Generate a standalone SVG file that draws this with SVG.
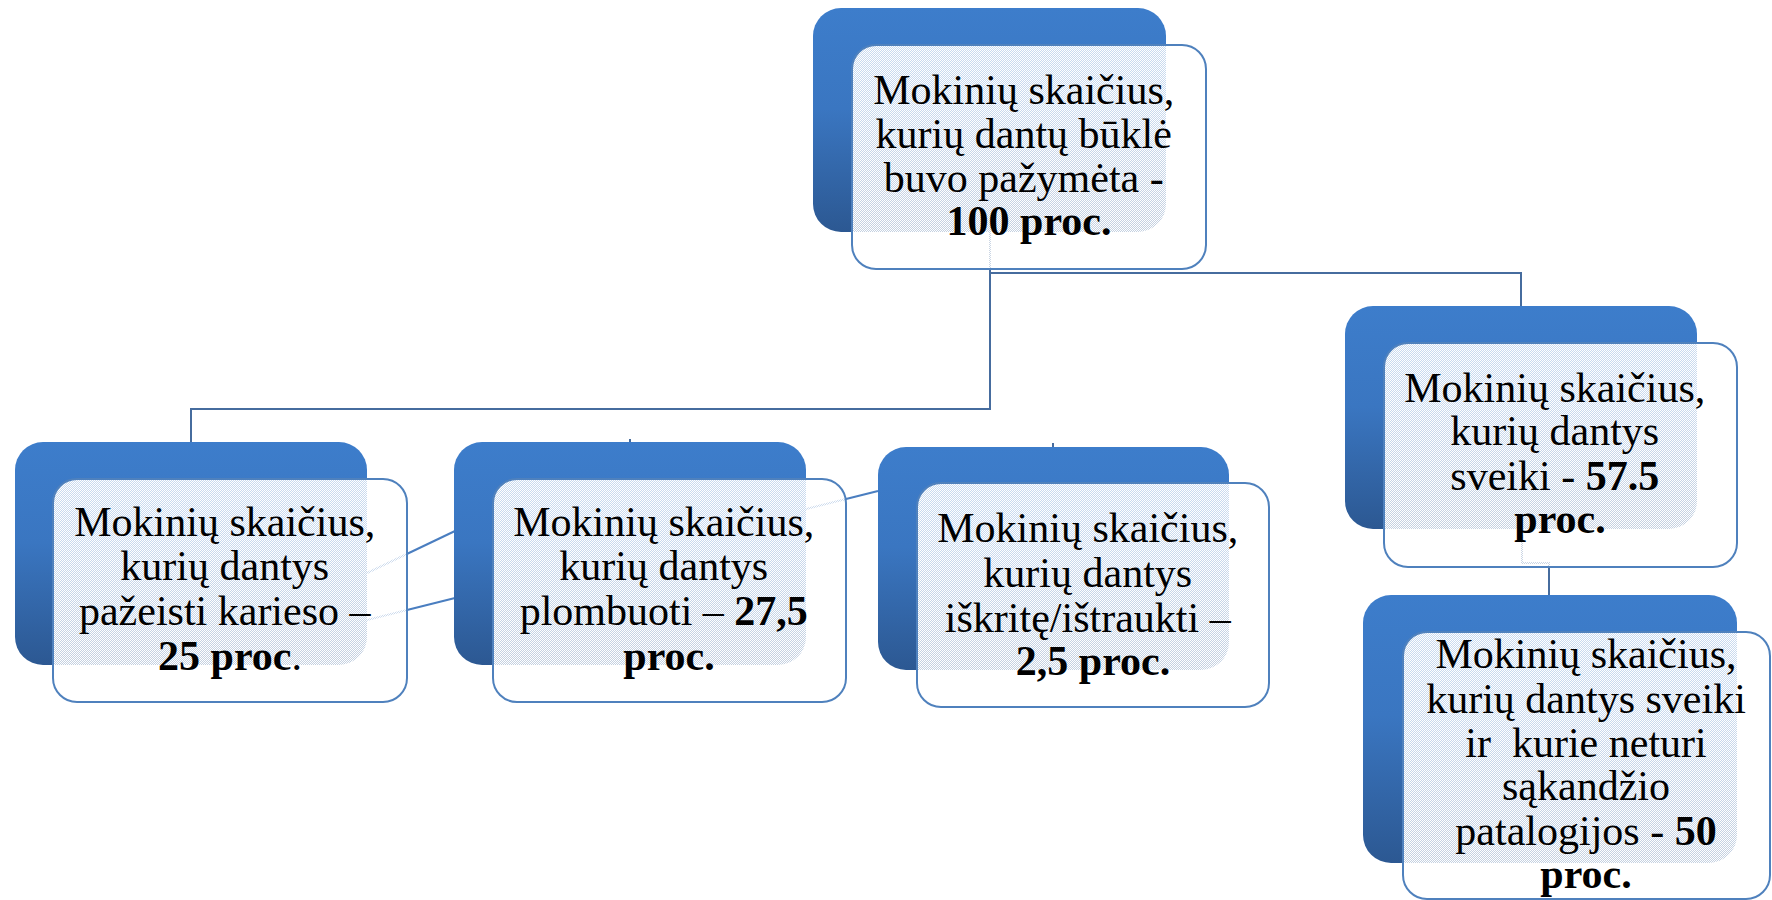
<svg xmlns="http://www.w3.org/2000/svg" width="1772" height="900" viewBox="0 0 1772 900">
  <defs>
    <linearGradient id="backGrad" x1="0" y1="0" x2="0" y2="1">
      <stop offset="0" stop-color="#3d7dcb"/>
      <stop offset="0.45" stop-color="#3a76c1"/>
      <stop offset="1" stop-color="#2c5892"/>
    </linearGradient>
    <pattern id="tex" x="0" y="0" width="2" height="2" patternUnits="userSpaceOnUse">
      <rect x="0" y="0" width="2" height="2" fill="#ffffff" fill-opacity="0.72"/>
      <rect x="0" y="0" width="1" height="1" fill="#ffffff"/>
      <rect x="1" y="1" width="1" height="1" fill="#ffffff"/>
    </pattern>
  </defs>
  <style>
    .back { fill: url(#backGrad); }
    .front { fill: url(#tex); stroke: #4f81bd; stroke-width: 2; }
    .tree { fill: none; stroke: #466c9e; stroke-width: 2; }
    .cross { fill: none; stroke: #4a7ec0; stroke-width: 2; }
    .t { font-family: "Liberation Serif", "Times New Roman", serif; font-size: 42px; fill: #000000; text-anchor: middle; }
    .b { font-weight: bold; }
  </style>
  <rect x="0" y="0" width="1772" height="900" fill="#ffffff"/>

  <g id="connectors">
    <path class="tree" d="M990,232 V409 H191 V442"/>
    <path class="tree" d="M990,273 H1521 V306"/>
    <path class="tree" d="M1522,529 V563 H1549 V595"/>
    <path class="cross" d="M367,573 L455,531"/>
    <path class="cross" d="M367,620 L455,598"/>
    <path class="cross" d="M806,509 L878,491"/>
    <path class="tree" d="M630,439 V442"/>
    <path class="tree" d="M1053,443 V447"/>
  </g>

  <g id="node-top">
    <rect class="back" x="813" y="8" width="353" height="224" rx="28"/>
    <rect class="front" x="852" y="45" width="354" height="224" rx="24"/>
    <text class="t">
      <tspan x="1029" y="104">Mokinių skaičius,</tspan>
      <tspan x="1029" y="148">kurių dantų būklė</tspan>
      <tspan x="1029" y="192">buvo pažymėta -</tspan>
      <tspan x="1029" y="235" class="b">100 proc.</tspan>
    </text>
  </g>

  <g id="node-karieso">
    <rect class="back" x="15" y="442" width="352" height="223" rx="28"/>
    <rect class="front" x="53" y="479" width="354" height="223" rx="24"/>
    <text class="t">
      <tspan x="230" y="536">Mokinių skaičius,</tspan>
      <tspan x="230" y="580">kurių dantys</tspan>
      <tspan x="230" y="625">pažeisti karieso –</tspan>
      <tspan x="230" y="670"><tspan class="b">25 proc</tspan>.</tspan>
    </text>
  </g>

  <g id="node-plombuoti">
    <rect class="back" x="454" y="442" width="352" height="223" rx="28"/>
    <rect class="front" x="493" y="479" width="353" height="223" rx="24"/>
    <text class="t">
      <tspan x="669" y="536">Mokinių skaičius,</tspan>
      <tspan x="669" y="580">kurių dantys</tspan>
      <tspan x="669" y="625">plombuoti – <tspan class="b">27,5</tspan></tspan>
      <tspan x="669" y="670" class="b">proc.</tspan>
    </text>
  </g>

  <g id="node-iskrite">
    <rect class="back" x="878" y="447" width="351" height="223" rx="28"/>
    <rect class="front" x="917" y="483" width="352" height="224" rx="24"/>
    <text class="t">
      <tspan x="1093" y="542">Mokinių skaičius,</tspan>
      <tspan x="1093" y="587">kurių dantys</tspan>
      <tspan x="1093" y="632">iškritę/ištraukti –</tspan>
      <tspan x="1093" y="675" class="b">2,5 proc.</tspan>
    </text>
  </g>

  <g id="node-sveiki">
    <rect class="back" x="1345" y="306" width="352" height="223" rx="28"/>
    <rect class="front" x="1384" y="343" width="353" height="224" rx="24"/>
    <text class="t">
      <tspan x="1560" y="402">Mokinių skaičius,</tspan>
      <tspan x="1560" y="445">kurių dantys</tspan>
      <tspan x="1560" y="490">sveiki - <tspan class="b">57.5</tspan></tspan>
      <tspan x="1560" y="533" class="b">proc.</tspan>
    </text>
  </g>

  <g id="node-sveiki-be-patologijos">
    <rect class="back" x="1363" y="595" width="374" height="268" rx="28"/>
    <rect class="front" x="1403" y="632" width="367" height="267" rx="24"/>
    <text class="t" xml:space="preserve"><tspan x="1586" y="668">Mokinių skaičius,</tspan><tspan x="1586" y="713">kurių dantys sveiki</tspan><tspan x="1586" y="757">ir  kurie neturi</tspan><tspan x="1586" y="800">sąkandžio</tspan><tspan x="1586" y="845">patalogijos - <tspan class="b">50</tspan></tspan><tspan x="1586" y="888" class="b">proc.</tspan></text>
  </g>
</svg>
